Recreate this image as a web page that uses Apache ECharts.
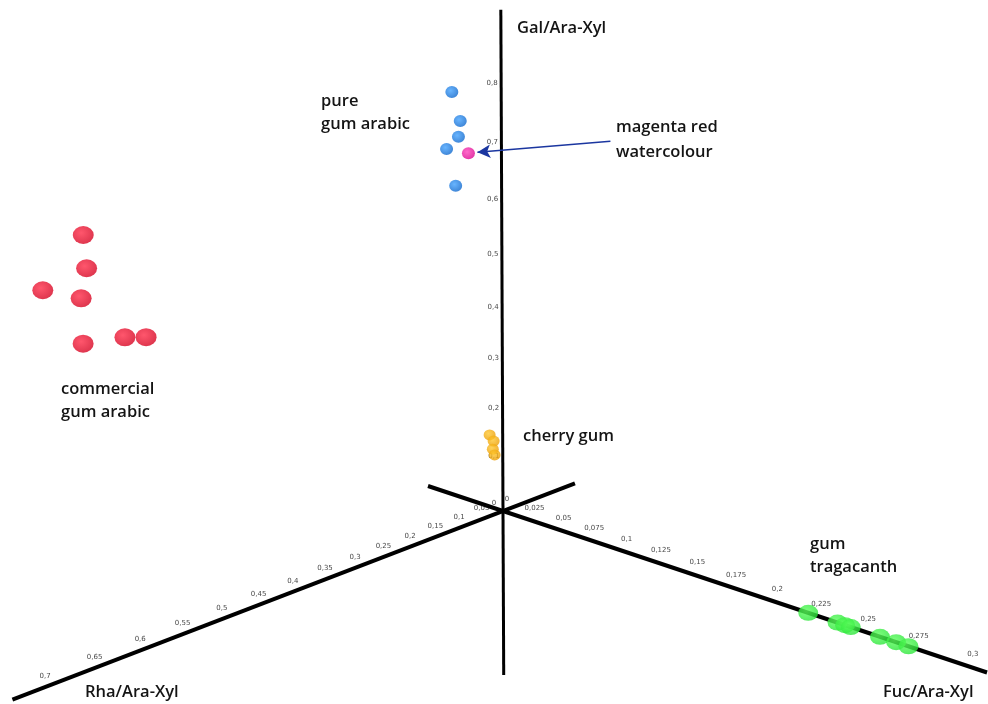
<!DOCTYPE html>
<html>
<head>
<meta charset="utf-8">
<script src="https://cdn.jsdelivr.net/npm/echarts@6/dist/echarts.min.js"></script>
<style>
html,body{margin:0;padding:0;background:#fff;}
#chart{width:988px;height:704px;}
</style>
</head>
<body>
<div id="chart"></div>
<script>
// ---- Data: each point is [Rha/Ara-Xyl, Fuc/Ara-Xyl, Gal/Ara-Xyl] ----
const pureGumArabic = [[0.098,0,0.788],[0.083,0,0.743],[0.087,0,0.717],[0.110,0,0.696],[0.094,0,0.636]];
const magentaWatercolour = [[0.068,0,0.691]];
const commercialGumArabic = [[0.602,0,0.569],[0.603,0,0.529],[0.646,0,0.506],[0.612,0,0.493],[0.616,0,0.437],[0.574,0,0.439],[0.552,0,0.436]];
const cherryGum = [[0.030,0,0.169],[0.021,0,0.154],[0.023,0,0.138],[0.019,0,0.125]];
const gumTragacanth = [[0,0.220,0],[0,0.236,0],[0,0.240,0],[0,0.243,0],[0,0.258,0],[0,0.266,0],[0,0.272,0]];

// ---- Tick labels ----
const rhaTicks = [0.05,0.1,0.15,0.2,0.25,0.3,0.35,0.4,0.45,0.5,0.55,0.6,0.65,0.7];
const fucTicks = [0,0.025,0.05,0.075,0.1,0.125,0.15,0.175,0.2,0.225,0.25,0.275,0.3];
const galTicks = [0,0.1,0.2,0.3,0.4,0.5,0.6,0.7,0.8];

// ---- Perspective projection of the 3D axes onto the page ----
function project(p){
  const r=p[0], f=p[1], g=p[2];
  const D = 1 - 0.52*r - 1.03*f - 0.154*g;
  return [503 + (-416*r + 1073*f - 2*g)/D, 511 + (160*r + 358*f - 460*g)/D];
}
const fmt = v => String(v).replace('.', ',');

function sphere(hi, base){
  return new echarts.graphic.RadialGradient(0.4,0.38,0.7,[
    {offset:0,color:hi},{offset:1,color:base}]);
}

const chart = echarts.init(document.getElementById('chart'), null, {renderer:'canvas'});

function axisLine(a, b, w){
  return {type:'line', data:[project(a), project(b)], symbol:'none', silent:true,
    lineStyle:{color:'#000', width:w}, z:1, animation:false};
}
function tickSeries(ticks, toPoint, offset){
  return {type:'scatter', symbolSize:0, silent:true, z:2, animation:false,
    data: ticks.map(t => ({value: project(toPoint(t)), label:{formatter: fmt(t)}})),
    label:{show:true, position:'inside', offset:offset, fontSize:7, color:'#111',
      fontFamily:'DejaVu Sans'}};
}
function dots(name, arr, size, hi, base){
  return {name:name, type:'scatter', data:arr.map(project), symbolSize:size, z:5,
    animation:false, itemStyle:{color:sphere(hi, base)}};
}

const m = project(magentaWatercolour[0]);

const txt = (t, x, y, extra) => ({type:'text', x:x, y:y, style:Object.assign({text:t,
  font:'600 16.5px "Open Sans", sans-serif', fill:'#141414', textVerticalAlign:'middle', lineHeight:23}, extra||{})});

chart.setOption({
  animation:false,
  grid:{left:0,right:0,top:0,bottom:0},
  xAxis:{type:'value', min:0, max:988, show:false},
  yAxis:{type:'value', min:0, max:704, inverse:true, show:false},
  series:[
    axisLine([0,0,-0.377],[0,0,0.933],3),
    axisLine([-0.19,0,0],[0.731,0,0],4),
    axisLine([0,-0.0753,0],[0,0.308,0],4),
    tickSeries(rhaTicks, t=>[t,0,0], [0,-11]),
    tickSeries(fucTicks, t=>[0,t,0], [4,-12]),
    tickSeries(galTicks, t=>[0,0,t], [-9,-8]),
    dots('commercial gum arabic', commercialGumArabic, [21,18], '#ff2c48', '#d2001e'),
    dots('pure gum arabic', pureGumArabic, [13,12], '#42a2ff', '#0a62c8'),
    Object.assign(dots('magenta red watercolour', magentaWatercolour, [13,12], '#ff44bd', '#d8008c'), {
      markLine:{silent:true, symbol:['arrow','none'], symbolSize:[10,13], animation:false,
        lineStyle:{color:'#1b36a0', width:1.6, type:'solid'}, label:{show:false},
        data:[[{coord:[m[0]+9, m[1]-1]},{coord:[m[0]+142, m[1]-12]}]]}
    }),
    dots('cherry gum', cherryGum, [12,11], '#ffc830', '#ea9a00'),
    dots('gum tragacanth', gumTragacanth, [20,16], '#5cff5c', '#26e236')
  ],
  graphic:[
    txt('Gal/Ara-Xyl', 517, 28),
    txt('pure\ngum arabic', 321, 113),
    txt('magenta red\nwatercolour', 616, 140, {lineHeight:25}),
    txt('commercial\ngum arabic', 61, 401),
    txt('cherry gum', 523, 436),
    txt('gum\ntragacanth', 810, 556),
    txt('Rha/Ara-Xyl', 85, 692),
    txt('Fuc/Ara-Xyl', 883, 692)
  ]
});
</script>
</body>
</html>
